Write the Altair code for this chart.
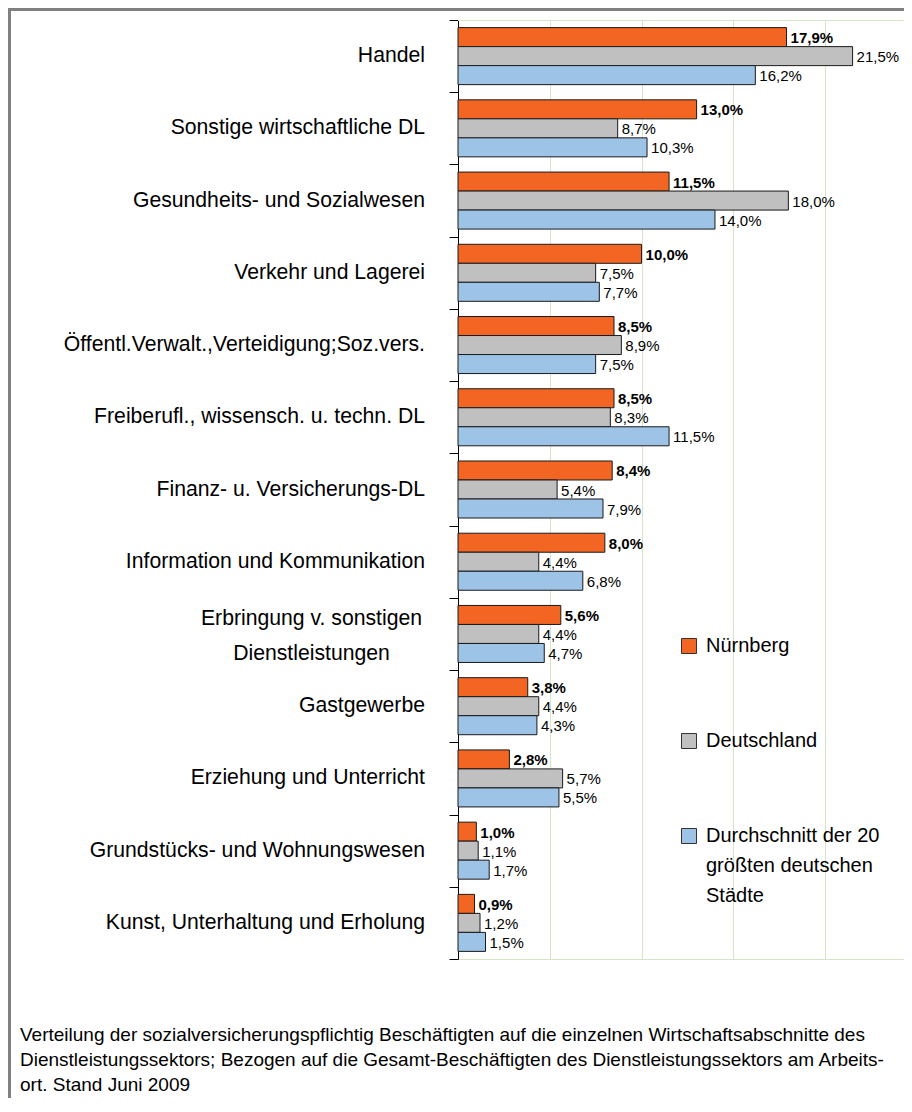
import altair as alt
import pandas as pd

categories = [
    "Handel",
    "Sonstige wirtschaftliche DL",
    "Gesundheits- und Sozialwesen",
    "Verkehr und Lagerei",
    "Öffentl.Verwalt.,Verteidigung;Soz.vers.",
    "Freiberufl., wissensch. u. techn. DL",
    "Finanz- u. Versicherungs-DL",
    "Information und Kommunikation",
    "Erbringung v. sonstigen|Dienstleistungen",
    "Gastgewerbe",
    "Erziehung und Unterricht",
    "Grundstücks- und Wohnungswesen",
    "Kunst, Unterhaltung und Erholung",
]
series_names = ["Nürnberg", "Deutschland", "Durchschnitt der 20 größten deutschen Städte"]
legend_lines = ["Durchschnitt der 20", "größten deutschen", "Städte"]
nuernberg = [17.9, 13.0, 11.5, 10.0, 8.5, 8.5, 8.4, 8.0, 5.6, 3.8, 2.8, 1.0, 0.9]
deutschland = [21.5, 8.7, 18.0, 7.5, 8.9, 8.3, 5.4, 4.4, 4.4, 4.4, 5.7, 1.1, 1.2]
staedte = [16.2, 10.3, 14.0, 7.7, 7.5, 11.5, 7.9, 6.8, 4.7, 4.3, 5.5, 1.7, 1.5]
footnote_lines = [
    "Verteilung der sozialversicherungspflichtig Beschäftigten auf die einzelnen Wirtschaftsabschnitte des",
    "Dienstleistungssektors; Bezogen auf die Gesamt-Beschäftigten des Dienstleistungssektors am Arbeits-",
    "ort. Stand Juni 2009",
]
colors = ["#F26522", "#C0C0C0", "#9DC3E6"]

GREEN = "#D5E6C6"
FRAME = "#808080"
FONT = "Liberation Sans"

rows = []
for name, vals in zip(series_names, [nuernberg, deutschland, staedte]):
    for c, v in zip(categories, vals):
        rows.append({"cat": c, "series": name, "value": v})
df = pd.DataFrame(rows)
cat_df = pd.DataFrame({"cat": categories})

W, H = 446, 939

y_enc = alt.Y(
    "cat:N",
    sort=categories,
    scale=alt.Scale(paddingInner=0, paddingOuter=0),
    axis=alt.Axis(
        title=None,
        tickBand="extent",
        tickSize=9,
        tickColor="black",
        domainColor="black",
        labels=False,
        grid=False,
    ),
)
yoff = alt.YOffset("series:N", sort=series_names, scale=alt.Scale(paddingInner=0, paddingOuter=0.4))

x_enc = alt.X(
    "value:Q",
    scale=alt.Scale(domain=[0, 24.3], nice=False),
    axis=alt.Axis(
        title=None, values=[5, 10, 15, 20], grid=True, gridColor=GREEN,
        labels=False, ticks=False, domainColor=GREEN,
    ),
)

legend_expr = (
    "datum.label == '" + series_names[2] + "' ? ['" + "', '".join(legend_lines) + "'] : datum.label"
)

bars = alt.Chart(df).mark_bar(stroke="#1a1a1a", strokeWidth=1).encode(
    x=x_enc,
    y=y_enc,
    yOffset=yoff,
    color=alt.Color(
        "series:N",
        sort=series_names,
        scale=alt.Scale(domain=series_names, range=colors),
        legend=alt.Legend(
            title=None, orient="none", legendX=221, legendY=616, direction="vertical",
            symbolType="square", symbolSize=225, symbolStrokeColor="#333333", symbolStrokeWidth=1,
            labelFontSize=20, labelFont=FONT, labelColor="black", labelLimit=500, labelOffset=7,
            rowPadding=75, labelExpr=legend_expr,
        ),
    ),
)

label_calc = "replace(format(datum.value, '.1f'), '.', ',') + '%'"

text_bold = alt.Chart(df).transform_filter(alt.datum.series == series_names[0]).transform_calculate(
    label=label_calc
).mark_text(align="left", baseline="middle", dx=4, dy=1, font=FONT, fontSize=15, fontWeight="bold", color="black").encode(
    x=x_enc, y=y_enc, yOffset=yoff, text="label:N"
)
text_norm = alt.Chart(df).transform_filter(alt.datum.series != series_names[0]).transform_calculate(
    label=label_calc
).mark_text(align="left", baseline="middle", dx=4, dy=1, font=FONT, fontSize=15, color="black").encode(
    x=x_enc, y=y_enc, yOffset=yoff, text="label:N"
)

# category labels (right aligned; the two-line one centred as in the original)
cat_single = alt.Chart(cat_df).transform_filter("indexof(datum.cat, '|') < 0").mark_text(
    align="right", baseline="middle", fontSize=21.2, font=FONT, color="black"
).encode(x=alt.value(-33), y=y_enc, text="cat:N")
cat_multi = alt.Chart(cat_df).transform_filter("indexof(datum.cat, '|') >= 0").mark_text(
    align="center", baseline="middle", dy=-14.5, fontSize=21.2, font=FONT, color="black",
    lineBreak="|", lineHeight=35
).encode(x=alt.value(-146.5), y=y_enc, text="cat:N")

one = pd.DataFrame({"k": [0]})
top_line = alt.Chart(one).mark_rule(color=GREEN, strokeWidth=1).encode(
    x=alt.value(0), x2=alt.value(W), y=alt.value(0.5)
)
frame_left = alt.Chart(one).mark_rule(color=FRAME, strokeWidth=3).encode(
    x=alt.value(-448.5), y=alt.value(-12), y2=alt.value(1078)
)
frame_top = alt.Chart(one).mark_rule(color=FRAME, strokeWidth=3).encode(
    x=alt.value(-450), x2=alt.value(W), y=alt.value(-10.5)
)
foot = alt.Chart(pd.DataFrame({"t": ["\n".join(footnote_lines)]})).mark_text(
    align="left", baseline="alphabetic", lineBreak="\n", fontSize=19, lineHeight=25, font=FONT, color="black"
).encode(x=alt.value(-438), y=alt.value(1021), text="t:N")

chart = (
    alt.layer(top_line, bars, text_bold, text_norm, cat_single, cat_multi, frame_left, frame_top, foot)
    .properties(
        width=W,
        height=H,
        padding={"left": 450, "top": 12, "right": 0, "bottom": 139},
        autosize=alt.AutoSizeParams(type="none"),
    )
    .configure_view(stroke=None)
    .configure(style={"guide-label": {"lineHeight": 30}})
)

chart.save("out.html", embed_options={"renderer": "svg", "actions": False})
